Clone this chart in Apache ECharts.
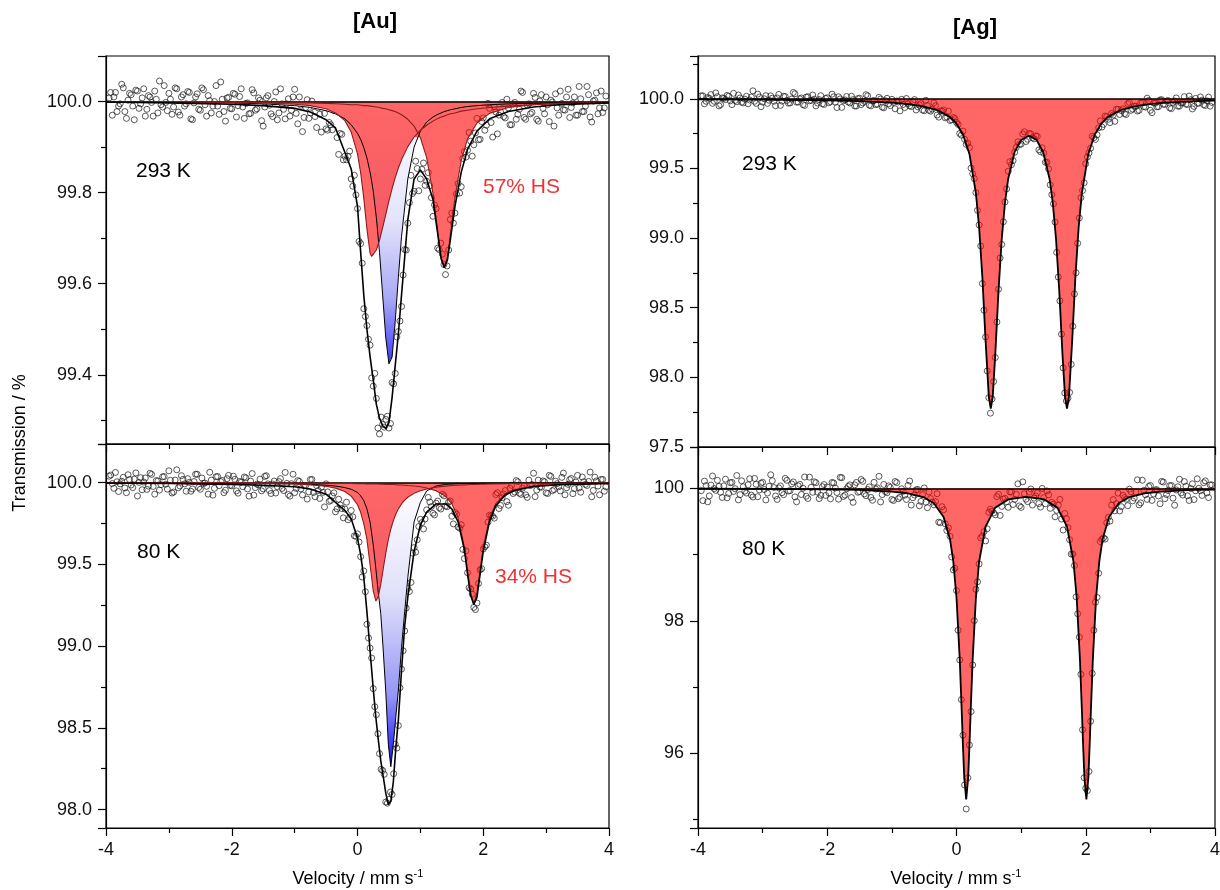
<!DOCTYPE html>
<html><head><meta charset="utf-8">
<script src="https://cdn.jsdelivr.net/npm/echarts@6/dist/echarts.min.js"></script>
<style>html,body{margin:0;padding:0;background:#fff}#c{width:1220px;height:890px}</style>
</head><body><div id="c"></div>
<script>
// ---------------- data ----------------
const BASE = 100;
const xTicks = [-4, -2, 0, 2, 4];
const auHotYTicks = [99.4, 99.6, 99.8, 100.0];
const auColdYTicks = [98.0, 98.5, 99.0, 99.5, 100.0];
const agHotYTicks = [97.5, 98.0, 98.5, 99.0, 99.5, 100.0];
const agColdYTicks = [96, 98, 100];

// measured velocity channels (mm/s), two interleaved sets
const vel = [-3.95,-3.9,-3.85,-3.8,-3.75,-3.7,-3.65,-3.6,-3.55,-3.5,-3.45,-3.4,-3.35,-3.3,-3.25,-3.2,-3.15,-3.1,-3.05,-3,-2.95,-2.9,-2.85,-2.8,-2.75,-2.7,-2.65,-2.6,-2.55,-2.5,-2.45,-2.4,-2.35,-2.3,-2.25,-2.2,-2.15,-2.1,-2.05,-2,-1.95,-1.9,-1.85,-1.8,-1.75,-1.7,-1.65,-1.6,-1.55,-1.5,-1.45,-1.4,-1.35,-1.3,-1.25,-1.2,-1.15,-1.1,-1.05,-1,-0.95,-0.9,-0.85,-0.8,-0.75,-0.7,-0.65,-0.6,-0.55,-0.5,-0.45,-0.4,-0.35,-0.3,-0.25,-0.2,-0.15,-0.1,-0.05,0,0.05,0.1,0.15,0.2,0.25,0.3,0.35,0.4,0.45,0.5,0.55,0.6,0.65,0.7,0.75,0.8,0.85,0.9,0.95,1,1.05,1.1,1.15,1.2,1.25,1.3,1.35,1.4,1.45,1.5,1.55,1.6,1.65,1.7,1.75,1.8,1.85,1.9,1.95,2,2.05,2.1,2.15,2.2,2.25,2.3,2.35,2.4,2.45,2.5,2.55,2.6,2.65,2.7,2.75,2.8,2.85,2.9,2.95,3,3.05,3.1,3.15,3.2,3.25,3.3,3.35,3.4,3.45,3.5,3.55,3.6,3.65,3.7,3.75,3.8,3.85,3.9,3.95];
const vel2 = [-3.925,-3.875,-3.825,-3.775,-3.725,-3.675,-3.625,-3.575,-3.525,-3.475,-3.425,-3.375,-3.325,-3.275,-3.225,-3.175,-3.125,-3.075,-3.025,-2.975,-2.925,-2.875,-2.825,-2.775,-2.725,-2.675,-2.625,-2.575,-2.525,-2.475,-2.425,-2.375,-2.325,-2.275,-2.225,-2.175,-2.125,-2.075,-2.025,-1.975,-1.925,-1.875,-1.825,-1.775,-1.725,-1.675,-1.625,-1.575,-1.525,-1.475,-1.425,-1.375,-1.325,-1.275,-1.225,-1.175,-1.125,-1.075,-1.025,-0.975,-0.925,-0.875,-0.825,-0.775,-0.725,-0.675,-0.625,-0.575,-0.525,-0.475,-0.425,-0.375,-0.325,-0.275,-0.225,-0.175,-0.125,-0.075,-0.025,0.025,0.075,0.125,0.175,0.225,0.275,0.325,0.375,0.425,0.475,0.525,0.575,0.625,0.675,0.725,0.775,0.825,0.875,0.925,0.975,1.025,1.075,1.125,1.175,1.225,1.275,1.325,1.375,1.425,1.475,1.525,1.575,1.625,1.675,1.725,1.775,1.825,1.875,1.925,1.975,2.025,2.075,2.125,2.175,2.225,2.275,2.325,2.375,2.425,2.475,2.525,2.575,2.625,2.675,2.725,2.775,2.825,2.875,2.925,2.975,3.025,3.075,3.125,3.175,3.225,3.275,3.325,3.375,3.425,3.475,3.525,3.575,3.625,3.675,3.725,3.775,3.825,3.875,3.925];

// measured transmission (%)
const auHotObs = [100.008,99.970,100.020,99.990,100.038,99.978,100.003,100.015,99.960,100.023,
99.995,100.028,99.983,100.010,99.968,100.005,100.045,99.988,99.998,100.018,
99.972,100.030,99.977,100.010,99.990,100.022,99.962,99.997,100.017,99.981,
100.026,99.968,100.002,99.990,100.035,99.972,100.005,99.957,100.009,99.984,
100.016,99.991,100.028,99.963,99.997,99.974,100.019,99.984,100.003,99.946,
100.008,99.992,99.967,100.021,99.975,99.995,99.962,100.006,99.981,100.027,
99.951,99.992,99.965,100.004,99.975,99.989,99.943,99.972,99.993,99.940,
99.954,99.938,99.980,99.884,99.928,99.880,99.880,99.830,99.838,99.765,
99.688,99.545,99.508,99.465,99.375,99.348,99.270,99.291,99.302,99.283,
99.383,99.403,99.495,99.550,99.675,99.733,99.838,99.803,99.853,99.830,
99.865,99.825,99.815,99.748,99.765,99.675,99.665,99.620,99.674,99.755,
99.755,99.820,99.813,99.890,99.893,99.913,99.905,99.963,99.917,99.964,
99.948,99.985,99.922,99.977,99.970,99.998,99.964,99.986,99.949,99.998,
99.972,100.023,99.965,99.992,99.973,100.018,99.961,100.001,99.985,100.010,
99.956,99.999,100.017,99.970,99.996,99.981,100.027,99.987,100.010,99.970,
100.006,99.978,100.033,99.966,100.001,100.019,99.986,99.976,100.012];
const auHotObs2 = [100.020,100.010,99.978,99.995,100.030,99.963,100.018,99.990,100.025,99.985,
100.008,99.968,100.013,99.998,100.023,99.975,99.993,100.035,99.980,100.005,
99.988,100.028,99.970,100.015,99.995,100.020,99.960,100.010,99.983,100.030,
99.993,100.013,99.975,100.000,99.990,100.043,99.978,100.008,99.985,100.018,
99.966,100.011,99.988,99.996,99.973,100.026,99.981,100.008,99.958,99.988,
100.013,99.973,100.000,99.960,100.028,99.983,99.995,99.968,100.010,99.974,
100.010,99.934,99.987,99.963,100.001,99.967,99.986,99.933,99.974,99.937,
99.949,99.980,99.921,99.930,99.872,99.872,99.891,99.814,99.795,99.693,
99.645,99.528,99.478,99.393,99.403,99.283,99.307,99.285,99.309,99.293,
99.380,99.483,99.518,99.619,99.674,99.778,99.798,99.869,99.804,99.851,
99.816,99.844,99.789,99.773,99.678,99.689,99.642,99.639,99.741,99.733,
99.797,99.799,99.875,99.878,99.932,99.880,99.931,99.916,99.956,99.937,
99.996,99.954,99.989,99.929,99.977,99.967,100.005,99.949,99.995,99.961,
99.983,100.020,99.961,99.995,99.976,100.009,99.957,100.015,99.973,99.993,
100.003,99.946,99.986,100.023,99.982,100.010,99.965,99.997,99.970,100.033,
99.978,99.990,100.015,99.955,100.003,99.973,100.023,99.986];

const auColdObs = [100.040,99.995,100.063,99.946,100.009,99.968,100.049,99.986,100.022,99.919,
100.031,100.004,99.959,100.058,99.977,100.013,99.955,100.036,99.991,100.073,
99.937,100.016,99.969,100.043,99.993,100.025,99.948,100.007,100.052,99.960,
99.996,99.978,100.064,99.924,100.037,99.982,100.014,99.954,100.045,99.981,
100.021,99.936,100.003,100.035,99.962,100.010,99.924,99.991,100.022,99.962,
100.043,99.952,99.992,99.937,100.007,99.965,100.063,99.928,99.994,99.939,
100.013,99.962,99.983,99.900,100.019,99.940,99.982,99.904,99.941,99.993,
99.886,99.919,99.822,99.899,99.842,99.839,99.773,99.830,99.675,99.687,
99.547,99.460,99.134,98.988,98.740,98.580,98.342,98.239,98.046,98.063,
98.092,98.400,98.514,98.859,99.093,99.354,99.390,99.603,99.651,99.776,
99.717,99.834,99.882,99.813,99.875,99.848,99.929,99.857,99.882,99.795,
99.818,99.729,99.743,99.536,99.449,99.350,99.237,99.264,99.467,99.594,
99.618,99.801,99.795,99.928,99.842,99.908,99.952,99.862,99.984,99.943,
100.006,99.929,99.981,99.910,99.982,100.058,99.955,99.974,100.011,99.938,
100.045,99.951,100.010,99.975,100.033,99.926,99.990,100.026,99.964,100.045,
99.942,100.006,99.983,100.065,99.953,100.011,99.926,100.020,99.975];
const auColdObs2 = [100.047,99.966,100.006,99.993,100.033,99.939,100.020,99.970,100.060,100.002,
99.957,100.029,99.979,100.051,99.930,100.011,99.988,100.038,99.961,100.015,
99.943,100.079,99.980,100.020,99.948,100.002,99.962,100.052,99.971,100.029,
99.998,99.930,100.016,99.966,100.038,100.007,99.939,100.025,99.984,100.040,
99.950,100.008,99.976,100.030,99.918,100.056,99.970,99.987,99.950,100.039,
99.993,99.934,100.010,99.976,100.025,99.952,99.996,99.918,100.052,99.965,
100.008,99.925,99.982,99.944,100.020,99.914,99.952,99.972,99.852,99.944,
99.892,99.938,99.840,99.864,99.785,99.881,99.788,99.791,99.672,99.637,
99.423,99.333,99.050,98.927,98.629,98.464,98.246,98.216,98.039,98.107,
98.219,98.376,98.745,98.972,99.233,99.334,99.569,99.575,99.732,99.756,
99.778,99.910,99.854,99.803,99.888,99.839,99.920,99.853,99.888,99.748,
99.807,99.722,99.592,99.583,99.357,99.318,99.224,99.384,99.474,99.608,
99.759,99.798,99.783,99.939,99.861,99.932,99.884,99.966,99.934,100.013,
99.936,99.967,99.926,100.016,99.989,99.915,100.016,99.972,100.006,99.934,
100.039,99.958,99.994,99.950,100.059,99.969,100.019,99.933,100.004,99.968,
100.035,99.990,100.008,99.914,100.034,99.980,100.020,99.948];

const agHotObs = [100.021,99.964,100.009,100.030,99.982,100.015,99.958,100.003,100.024,99.985,
100.039,99.979,100.006,99.970,100.018,99.991,100.057,99.967,100.012,99.976,
100.022,99.989,100.004,99.950,100.031,99.983,100.016,99.968,99.998,100.036,
99.976,100.006,99.952,100.015,99.988,99.997,99.969,100.022,99.959,100.007,
99.979,100.014,99.937,99.999,99.986,100.016,99.970,99.994,99.948,100.004,
99.970,100.029,99.955,99.985,99.958,100.010,99.940,99.986,99.964,99.996,
99.928,99.977,99.996,99.937,99.965,99.944,99.994,99.942,99.966,99.914,
99.950,99.911,99.971,99.883,99.912,99.920,99.869,99.844,99.865,99.830,
99.751,99.768,99.673,99.649,99.462,99.326,99.094,98.673,98.290,97.854,
97.845,98.142,98.633,98.954,99.259,99.480,99.526,99.616,99.691,99.674,
99.763,99.709,99.747,99.712,99.730,99.620,99.609,99.544,99.382,99.246,
98.897,98.549,98.068,97.831,97.892,98.367,98.751,99.144,99.341,99.534,
99.611,99.731,99.708,99.792,99.797,99.876,99.853,99.894,99.838,99.924,
99.915,99.893,99.965,99.917,99.946,99.912,99.970,99.944,100.004,99.917,
99.970,99.942,99.992,99.961,99.983,99.934,99.974,100.006,99.947,99.972,
99.961,100.019,99.927,100.003,99.968,99.990,99.952,100.012,99.974];
const agHotObs2 = [100.021,99.982,100.003,99.967,100.042,99.949,100.006,99.994,100.018,99.958,
99.988,100.027,99.976,99.997,99.964,100.012,99.982,100.033,99.943,100.000,
99.967,100.021,99.982,100.006,99.952,100.018,99.988,99.970,100.045,99.976,
100.000,99.958,100.012,99.985,100.027,99.949,99.994,99.964,100.003,99.971,
100.033,99.976,100.014,99.938,99.992,99.977,100.018,99.948,100.001,99.958,
99.981,100.021,99.949,99.987,99.961,99.998,99.935,100.003,99.951,99.974,
99.984,99.913,99.959,100.002,99.949,99.978,99.920,99.956,99.919,99.989,
99.917,99.926,99.950,99.868,99.912,99.863,99.911,99.849,99.858,99.816,
99.739,99.709,99.681,99.502,99.427,99.199,98.943,98.482,98.046,97.743,
97.970,98.397,98.857,99.117,99.353,99.548,99.556,99.651,99.672,99.747,
99.693,99.751,99.720,99.734,99.633,99.648,99.544,99.496,99.311,99.115,
98.720,98.310,97.888,97.851,98.093,98.599,98.962,99.290,99.397,99.582,
99.645,99.720,99.741,99.841,99.816,99.871,99.829,99.883,99.925,99.887,
99.928,99.887,99.974,99.926,99.946,99.917,99.972,99.940,99.988,99.900,
99.968,99.943,99.993,99.959,99.987,99.929,99.984,99.947,99.969,100.015,
99.959,99.993,99.945,99.967,100.013,99.957,99.985,99.947];

const agColdObs = [99.964,100.108,99.796,100.048,99.995,100.120,99.940,100.036,99.856,100.084,
99.952,100.192,99.904,100.024,99.928,100.144,99.868,100.060,99.976,100.090,
99.824,100.030,100.114,99.884,100.006,99.934,100.150,99.958,100.066,99.870,
100.038,99.906,100.170,99.846,100.014,100.098,99.942,99.894,100.056,100.020,
99.840,100.080,99.936,100.164,99.876,99.992,100.052,99.788,100.088,99.951,
100.105,99.889,100.021,99.819,99.988,100.180,99.905,99.950,100.036,99.831,
100.102,99.843,99.992,99.895,100.044,99.746,99.898,99.982,99.802,100.005,
99.707,99.846,99.750,99.918,99.480,99.676,99.363,99.276,98.768,98.456,
97.409,96.274,95.160,96.126,97.333,98.475,98.859,99.279,99.206,99.638,
99.656,99.600,99.909,99.727,99.848,99.712,99.941,99.832,100.067,99.712,
99.918,99.799,99.989,99.852,99.930,99.716,99.859,99.960,99.697,99.760,
99.667,99.832,99.370,99.543,99.224,99.008,98.362,97.752,96.356,95.474,
95.726,97.206,98.280,98.718,99.230,99.232,99.562,99.746,99.660,99.926,
99.723,99.859,99.738,99.947,99.852,100.128,99.780,99.970,99.833,100.043,
99.914,99.978,99.766,100.094,99.905,100.040,99.851,99.975,100.136,99.898,
100.031,99.816,100.067,99.962,99.999,99.892,100.112,99.860,100.052];
const agColdObs2 = [99.813,100.041,99.885,100.185,99.969,100.029,99.861,100.137,99.921,100.089,
99.993,99.825,100.113,99.957,100.053,99.897,100.149,99.873,100.077,99.981,
99.928,100.204,100.012,99.832,100.036,99.904,100.120,99.964,100.096,99.796,
100.060,100.000,99.880,100.168,99.940,100.084,99.844,100.024,99.892,99.932,
100.088,100.004,99.836,100.160,99.896,100.028,99.860,100.052,99.940,100.132,
99.915,99.982,99.862,100.090,100.006,99.794,100.058,99.932,100.013,99.816,
100.086,99.864,99.954,99.831,100.110,99.857,99.976,99.736,99.904,99.790,
99.945,99.792,99.798,99.489,99.722,99.464,99.402,98.964,98.792,97.858,
96.810,95.522,95.630,96.630,98.002,98.588,99.252,99.344,99.389,99.684,
99.628,99.874,99.590,99.836,99.798,99.947,99.755,99.908,99.734,100.097,
99.835,99.942,99.747,99.885,99.769,99.998,99.766,99.901,99.788,99.570,
99.744,99.535,99.620,99.406,99.006,98.834,98.106,97.192,95.632,95.438,
96.484,97.858,98.354,99.195,99.252,99.480,99.504,99.829,99.769,99.658,
99.893,99.835,99.987,99.810,99.942,99.750,100.121,99.902,100.028,99.817,
99.976,99.884,100.104,99.844,99.966,100.041,99.744,100.023,99.930,100.101,
99.886,99.996,99.830,100.143,99.964,100.085,99.930,100.051];

// fitted curves
const auHotFitV = [-4,-3,-2,-1.5,-1,-0.75,-0.5,-0.35,-0.2,-0.1,0,0.05,0.1,0.15,0.2,0.224,0.25,0.3,0.35,0.4,0.45,0.5,0.55,0.6,0.65,0.7,0.8,0.9,1.0,1.1,1.2,1.28,1.33,1.38,1.43,1.48,1.55,1.65,1.75,1.9,2.1,2.4,2.8,3.2,4];
const auHotTotal = [99.999,99.997,99.994,99.991,99.985,99.977,99.960,99.942,99.888,99.852,99.770,99.670,99.575,99.500,99.440,99.415,99.390,99.335,99.305,99.288,99.282,99.295,99.350,99.420,99.490,99.575,99.740,99.830,99.850,99.830,99.785,99.705,99.655,99.635,99.652,99.700,99.770,99.845,99.895,99.935,99.962,99.978,99.988,99.993,99.997];
const auHotHS1 = [100.000,99.999,99.998,99.997,99.994,99.991,99.984,99.975,99.958,99.933,99.885,99.844,99.788,99.720,99.667,99.660,99.662,99.674,99.695,99.723,99.752,99.782,99.809,99.833,99.854,99.872,99.901,99.922,99.937,99.948,99.957,99.963,99.966,99.968,99.971,99.973,99.975,99.979,99.981,99.984,99.987,99.990,99.993,99.995,99.997];
const auHotHS2 = [100.000,99.999,99.999,99.998,99.997,99.997,99.996,99.995,99.994,99.993,99.993,99.992,99.991,99.991,99.990,99.989,99.989,99.988,99.987,99.985,99.984,99.982,99.980,99.978,99.975,99.971,99.961,99.946,99.921,99.877,99.799,99.710,99.658,99.637,99.658,99.710,99.789,99.871,99.918,99.953,99.974,99.987,99.993,99.996,99.998];
const auHotLS = [99.999,99.998,99.997,99.995,99.991,99.987,99.980,99.973,99.962,99.949,99.930,99.917,99.899,99.876,99.845,99.826,99.803,99.745,99.669,99.575,99.481,99.424,99.439,99.517,99.614,99.703,99.830,99.900,99.935,99.955,99.966,99.972,99.975,99.978,99.980,99.982,99.984,99.987,99.989,99.991,99.993,99.995,99.996,99.997,99.998];

const auColdFitV = [-4,-3,-2,-1.5,-1,-0.75,-0.5,-0.35,-0.2,-0.1,0,0.05,0.1,0.15,0.2,0.25,0.293,0.33,0.37,0.41,0.45,0.49,0.53,0.57,0.61,0.65,0.7,0.75,0.8,0.9,1.0,1.1,1.25,1.4,1.5,1.6,1.7,1.75,1.8,1.85,1.9,1.95,2.0,2.1,2.2,2.35,2.5,2.8,3.2,4];
const auColdTotal = [99.998,99.996,99.990,99.985,99.975,99.962,99.930,99.880,99.830,99.780,99.660,99.560,99.420,99.210,98.970,98.740,98.560,98.430,98.300,98.200,98.100,98.030,98.050,98.170,98.380,98.550,98.850,99.120,99.300,99.580,99.740,99.820,99.870,99.870,99.840,99.760,99.590,99.440,99.310,99.255,99.300,99.440,99.580,99.765,99.860,99.925,99.952,99.977,99.988,99.995];
const auColdHS1 = [99.999,99.999,99.997,99.996,99.992,99.987,99.978,99.967,99.946,99.918,99.865,99.819,99.750,99.653,99.498,99.339,99.276,99.302,99.378,99.475,99.569,99.652,99.717,99.768,99.809,99.840,99.870,99.893,99.911,99.935,99.951,99.962,99.973,99.979,99.983,99.985,99.987,99.988,99.989,99.989,99.990,99.991,99.991,99.992,99.993,99.994,99.995,99.996,99.997,99.998];
const auColdHS2 = [99.999,99.999,99.999,99.998,99.998,99.997,99.997,99.996,99.995,99.995,99.994,99.994,99.994,99.993,99.993,99.993,99.992,99.992,99.991,99.991,99.990,99.990,99.989,99.989,99.988,99.987,99.986,99.985,99.983,99.980,99.975,99.968,99.951,99.917,99.872,99.784,99.605,99.466,99.324,99.258,99.324,99.466,99.605,99.784,99.872,99.931,99.958,99.980,99.990,99.996];
const auColdLS = [99.999,99.998,99.997,99.995,99.993,99.990,99.985,99.980,99.970,99.960,99.940,99.920,99.890,99.840,99.760,99.620,99.470,99.330,99.200,98.970,98.720,98.400,98.262,98.400,98.570,98.730,98.990,99.210,99.420,99.760,99.880,99.950,99.980,99.990,99.992,99.994,99.995,99.995,99.996,99.996,99.996,99.997,99.997,99.997,99.998,99.998,99.998,99.999,99.999,99.999];

const agHotFitV = [-4,-3,-2,-1.5,-1,-0.75,-0.5,-0.3,-0.1,0,0.1,0.2,0.3,0.35,0.4,0.45,0.5,0.53,0.56,0.6,0.65,0.7,0.75,0.8,0.9,1.0,1.12,1.24,1.34,1.44,1.49,1.54,1.59,1.64,1.68,1.71,1.74,1.79,1.84,1.89,1.94,2.04,2.14,2.24,2.34,2.54,2.74,2.99,3.24,3.74,4];
const agHotTotal = [99.996,99.994,99.989,99.983,99.972,99.962,99.944,99.919,99.868,99.821,99.744,99.604,99.323,99.076,98.721,98.263,97.860,97.775,97.856,98.163,98.621,98.993,99.253,99.426,99.619,99.704,99.734,99.704,99.619,99.426,99.253,98.993,98.621,98.163,97.856,97.775,97.860,98.263,98.721,99.076,99.323,99.604,99.744,99.821,99.868,99.919,99.944,99.962,99.972,99.983,99.986];

const agColdFitV = [-4,-3,-2,-1.5,-1,-0.75,-0.5,-0.35,-0.2,-0.1,-0.05,0,0.05,0.08,0.1,0.12,0.15,0.18,0.2,0.22,0.25,0.3,0.35,0.45,0.6,0.8,1.08,1.36,1.56,1.71,1.81,1.86,1.91,1.94,1.96,1.98,2.01,2.04,2.06,2.08,2.11,2.16,2.21,2.26,2.36,2.51,2.66,2.91,3.16,3.66,4];
const agColdTotal = [99.995,99.992,99.984,99.975,99.951,99.924,99.861,99.774,99.568,99.228,98.900,98.348,97.421,96.654,96.106,95.629,95.304,95.625,96.102,96.649,97.417,98.343,98.895,99.422,99.708,99.832,99.871,99.832,99.708,99.422,98.895,98.343,97.417,96.649,96.102,95.625,95.304,95.629,96.106,96.654,97.421,98.348,98.900,99.228,99.568,99.774,99.861,99.924,99.951,99.975,99.980];

// ---------------- chart ----------------
const FONT = '"Liberation Sans", Arial, Helvetica, sans-serif';
const RED = 'rgba(255,0,0,0.6)';
const DARKRED = '#8e1c1c';

const panels = [
  {grid:{left:106, top:56, width:503, height:388}, yMin:99.248, yMax:100.1, yStep:0.2, yTicks:auHotYTicks, dec:1, xLab:false},
  {grid:{left:106, top:444, width:503, height:384}, yMin:97.887, yMax:100.237, yStep:0.5, yTicks:auColdYTicks, dec:1, xLab:true},
  {grid:{left:698, top:56, width:517, height:391}, yMin:97.5, yMax:100.307, yStep:0.5, yTicks:agHotYTicks, dec:1, xLab:false},
  {grid:{left:698, top:447, width:517, height:381}, yMin:94.873, yMax:100.623, yStep:2, yTicks:agColdYTicks, dec:0, xLab:true}
];

function tickFmt(list, dec) {
  return function (val) {
    for (const t of list) { if (Math.abs(t - val) < 1e-6) return t.toFixed(dec); }
    return '';
  };
}
const axisLineStyle = {color:'#000', width:1.2};

const grids = panels.map(p => Object.assign({show:true, borderColor:'#000', borderWidth:1.2, backgroundColor:'transparent', containLabel:false, outerBoundsMode:'none'}, p.grid));
const xAxes = panels.map((p, i) => ({
  gridIndex:i, type:'value', min:xTicks[0], max:xTicks[xTicks.length-1], interval:2,
  axisLine:{show:true, onZero:false, lineStyle:axisLineStyle},
  axisTick:{show:true, inside:false, length:8, lineStyle:axisLineStyle},
  minorTick:{show:true, splitNumber:2, length:5, lineStyle:axisLineStyle},
  splitLine:{show:false}, minorSplitLine:{show:false},
  axisLabel:{show:p.xLab, margin:13, fontSize:18, color:'#111', fontFamily:FONT, formatter:tickFmt(xTicks,0)}
}));
const yAxes = panels.map((p, i) => ({
  gridIndex:i, type:'value', min:p.yMin, max:p.yMax, minInterval:p.yStep, maxInterval:p.yStep,
  axisLine:{show:true, onZero:false, lineStyle:axisLineStyle},
  axisTick:{show:true, inside:false, length:8, lineStyle:axisLineStyle},
  minorTick:{show:true, splitNumber:2, length:5, lineStyle:axisLineStyle},
  splitLine:{show:false}, minorSplitLine:{show:false},
  axisLabel:{show:true, margin:14, fontSize:18, color:'#111', fontFamily:FONT, formatter:tickFmt(p.yTicks, p.dec)}
}));

function scatterS(g, ys, ys2) {
  const pts = vel.map((v, i) => [v, ys[i]]).concat(vel2.map((v, i) => [v, ys2[i]]));
  return {type:'scatter', xAxisIndex:g, yAxisIndex:g, silent:true, z:2,
    data: pts, symbol:'circle', symbolSize:6,
    itemStyle:{color:'rgba(255,255,255,0)', borderColor:'#1a1a1a', borderWidth:0.9}};
}
function lineS(g, vs, ys, color, width, z, withBase) {
  const s = {type:'line', xAxisIndex:g, yAxisIndex:g, silent:true, z:z, showSymbol:false, symbol:'none',
    data: vs.map((v, i) => [v, ys[i]]), lineStyle:{color:color, width:width}};
  if (withBase) s.markLine = {silent:true, symbol:'none', label:{show:false}, animation:false,
    lineStyle:{color:'#000', width:1.6, type:'solid'}, data:[{yAxis:BASE}]};
  return s;
}
function fillS(g, vs, lower, fill, z) {
  return {type:'custom', xAxisIndex:g, yAxisIndex:g, silent:true, z:z, clip:true,
    data:[[vs[0], lower[0]]],
    renderItem: function (params, api) {
      const pts = [];
      for (let i = 0; i < vs.length; i++) pts.push(api.coord([vs[i], lower[i]]));
      for (let i = vs.length - 1; i >= 0; i--) pts.push(api.coord([vs[i], BASE]));
      return {type:'polygon', shape:{points:pts}, style:{fill:fill, stroke:null}};
    }};
}
// union of the two HS lines (deeper of the two) so overlapping tails are filled once
const auHotHS = auHotHS1.map((y, i) => Math.min(y, auHotHS2[i]));
const auColdHS = auColdHS1.map((y, i) => Math.min(y, auColdHS2[i]));

const LG = echarts.graphic.LinearGradient;
const blueHot = new LG(0,0,0,1,[{offset:0,color:'#ffffff'},{offset:0.45,color:'#e4e4fb'},{offset:0.75,color:'#a9a9f6'},{offset:1,color:'#3d3dff'}]);
const blueCold = new LG(0,0,0,1,[{offset:0,color:'#ffffff'},{offset:0.4,color:'#e0e0fa'},{offset:0.75,color:'#9595f7'},{offset:1,color:'#0f0fff'}]);

const series = [
  // [Au] 293 K
  scatterS(0, auHotObs, auHotObs2),
  fillS(0, auHotFitV, auHotLS, blueHot, 3),
  fillS(0, auHotFitV, auHotHS, RED, 4),
  lineS(0, auHotFitV, auHotLS, '#000', 1, 5),
  lineS(0, auHotFitV, auHotHS1, DARKRED, 1.1, 5),
  lineS(0, auHotFitV, auHotHS2, DARKRED, 1.1, 5),
  lineS(0, auHotFitV, auHotTotal, '#000', 1.6, 6, true),
  // [Au] 80 K
  scatterS(1, auColdObs, auColdObs2),
  fillS(1, auColdFitV, auColdLS, blueCold, 3),
  fillS(1, auColdFitV, auColdHS, RED, 4),
  lineS(1, auColdFitV, auColdLS, '#000', 1, 5),
  lineS(1, auColdFitV, auColdHS1, DARKRED, 1.1, 5),
  lineS(1, auColdFitV, auColdHS2, DARKRED, 1.1, 5),
  lineS(1, auColdFitV, auColdTotal, '#000', 1.6, 6, true),
  // [Ag] 293 K
  scatterS(2, agHotObs, agHotObs2),
  fillS(2, agHotFitV, agHotTotal, RED, 3),
  lineS(2, agHotFitV, agHotTotal, '#000', 1.8, 6, true),
  // [Ag] 80 K
  scatterS(3, agColdObs, agColdObs2),
  fillS(3, agColdFitV, agColdTotal, RED, 3),
  lineS(3, agColdFitV, agColdTotal, '#000', 1.8, 6, true)
];

function txt(text, x, y, opt) {
  return Object.assign({type:'text', x:x, y:y, silent:true, z:50,
    style:Object.assign({text:text, fill:'#000', fontSize:21, fontFamily:FONT, align:'left', verticalAlign:'middle'}, opt || {})});
}
const velRich = {a:{fontSize:18, fontFamily:FONT, fill:'#000', lineHeight:20, verticalAlign:'bottom'}, sup:{fontSize:11, fontFamily:FONT, fill:'#000', lineHeight:20, verticalAlign:'top'}};
const graphics = [
  txt('[Au]', 375, 22, {fontSize:22, fontWeight:'bold', align:'center'}),
  txt('[Ag]', 975, 28, {fontSize:22, fontWeight:'bold', align:'center'}),
  txt('293 K', 136, 171),
  txt('57% HS', 483, 187, {fill:'#ee3333'}),
  txt('80 K', 137, 552),
  txt('34% HS', 495, 577, {fill:'#ee3333'}),
  txt('293 K', 742, 164),
  txt('80 K', 742, 549),
  {type:'text', x:358, y:878, silent:true, z:50, style:{text:'{a|Velocity / mm s}{sup|-1}', rich:velRich, align:'center', verticalAlign:'middle'}},
  {type:'text', x:956, y:878, silent:true, z:50, style:{text:'{a|Velocity / mm s}{sup|-1}', rich:velRich, align:'center', verticalAlign:'middle'}},
  {type:'text', x:20, y:443, rotation:Math.PI/2, silent:true, z:50, style:{text:'Transmission / %', fill:'#000', fontSize:18, fontFamily:FONT, align:'center', verticalAlign:'middle'}}
];

const chart = echarts.init(document.getElementById('c'), null, {renderer:'canvas', width:1220, height:890});
chart.setOption({
  animation:false,
  backgroundColor:'#ffffff',
  textStyle:{fontFamily:FONT},
  grid:grids, xAxis:xAxes, yAxis:yAxes, series:series, graphic:graphics
});
</script></body></html>
